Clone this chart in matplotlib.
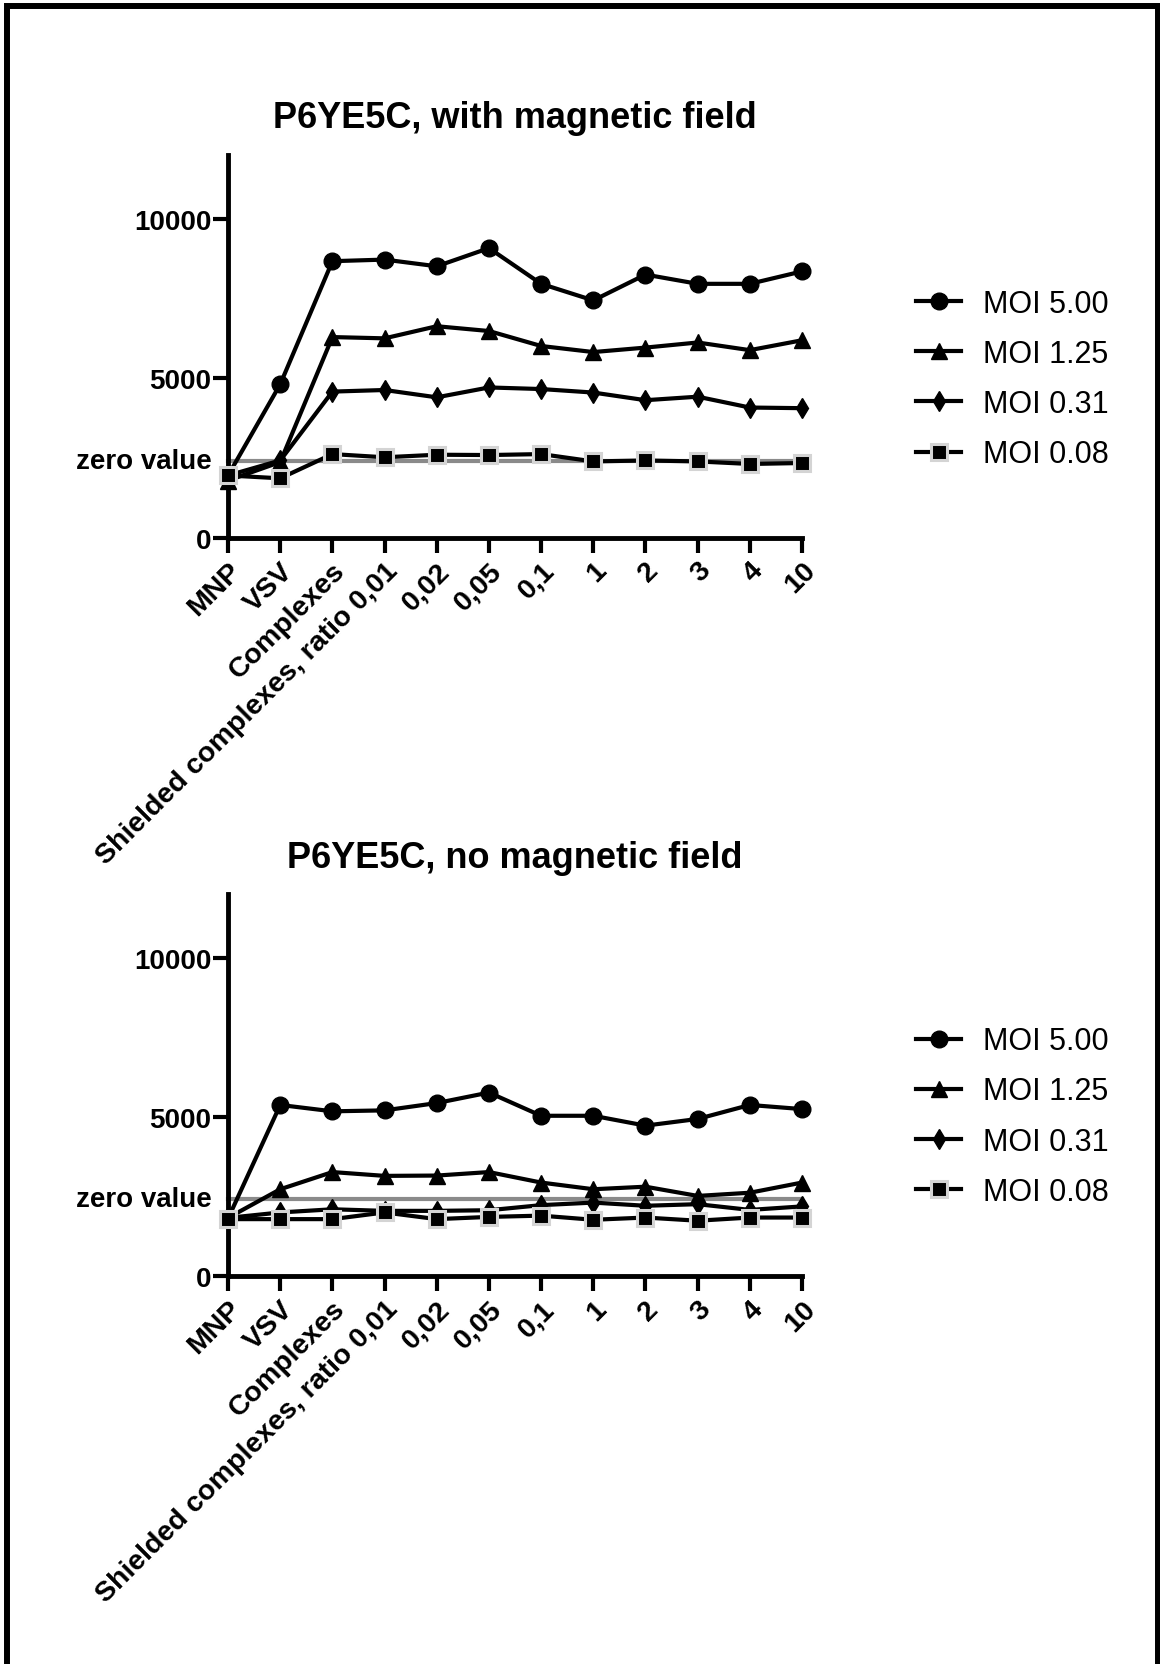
import matplotlib
matplotlib.use("Agg")
import matplotlib.pyplot as plt
import matplotlib.patches as patches

plt.rcParams['font.family'] = ['Liberation Sans', 'DejaVu Sans']

# kategorije na x osi
categories = ['MNP', 'VSV', 'Complexes', 'Shielded complexes, ratio 0,01',
              '0,02', '0,05', '0,1', '1', '2', '3', '4', '10']

series_labels = ['MOI 5.00', 'MOI 1.25', 'MOI 0.31', 'MOI 0.08']

# sa magnetnim poljem
with_field_500 = [1950, 4810, 8670, 8720, 8510, 9080, 7960, 7440, 8250, 7960, 7960, 8350]
with_field_125 = [1790, 2370, 6290, 6250, 6630, 6480, 6010, 5820, 5960, 6120, 5880, 6190]
with_field_031 = [1950, 2420, 4580, 4630, 4400, 4710, 4660, 4550, 4310, 4420, 4080, 4060]
with_field_008 = [1950, 1860, 2620, 2520, 2600, 2590, 2620, 2390, 2420, 2390, 2310, 2340]

# bez magnetnog polja
no_field_500 = [1810, 5380, 5180, 5210, 5440, 5770, 5040, 5040, 4730, 4940, 5380, 5250]
no_field_125 = [1830, 2730, 3270, 3150, 3160, 3270, 2940, 2730, 2810, 2520, 2620, 2940]
no_field_031 = [1830, 2000, 2100, 2050, 2050, 2070, 2230, 2310, 2210, 2260, 2080, 2190]
no_field_008 = [1790, 1790, 1790, 2000, 1790, 1860, 1900, 1770, 1840, 1740, 1840, 1840]

zero_values = [2390, 2415]
titles = ['P6YE5C, with magnetic field', 'P6YE5C, no magnetic field']

# stilovi markera po seriji
marker_styles = [
    dict(marker='o', markersize=12, markerfacecolor='black', markeredgecolor='black', markeredgewidth=1),
    dict(marker='^', markersize=12, markerfacecolor='black', markeredgecolor='black', markeredgewidth=1),
    dict(marker='d', markersize=10, markerfacecolor='black', markeredgecolor='black', markeredgewidth=1),
    dict(marker='s', markersize=11, markerfacecolor='black', markeredgecolor='#d4d4d4', markeredgewidth=2.2),
]

LW = 3.0
SPINE_W = 3.5
YTICK_FS = 20
XTICK_FS = 20.5


def draw_panel(ax, series, zero_val, title):
    x = list(range(len(categories)))
    ax.plot([0, len(categories) - 1], [zero_val, zero_val], color='#8a8a8a', lw=3, zorder=1, clip_on=False)
    for vals, label, style in zip(series, series_labels, marker_styles):
        ax.plot(x, vals, color='black', lw=LW, label=label, clip_on=False, zorder=3, **style)

    ax.set_xlim(0, len(categories) - 1)
    ax.set_ylim(0, 12000)
    ax.set_yticks([0, 5000, 10000])
    ax.set_yticklabels(['0', '5000', '10000'], fontsize=YTICK_FS, fontweight='bold')
    ax.set_xticks(x)
    ax.set_xticklabels(categories, fontsize=XTICK_FS, fontweight='bold', rotation=45,
                       ha='right', rotation_mode='anchor')
    ax.text(-0.028, zero_val, 'zero value', transform=ax.get_yaxis_transform(),
            ha='right', va='center', fontsize=YTICK_FS, fontweight='bold')

    for side in ('top', 'right'):
        ax.spines[side].set_visible(False)
    for side in ('left', 'bottom'):
        ax.spines[side].set_linewidth(SPINE_W)
    ax.tick_params(axis='both', direction='out', length=11, width=3, pad=3)
    ax.tick_params(axis='y', pad=1)

    ax.set_title(title, fontsize=26, fontweight='bold', pad=20)


fig = plt.figure(figsize=(11.6, 16.65), dpi=100)
fig.patch.set_facecolor('white')

ax1 = fig.add_axes([0.1966, 0.6765, 0.4948, 0.2298])
ax2 = fig.add_axes([0.1966, 0.2330, 0.4948, 0.2292])

draw_panel(ax1, [with_field_500, with_field_125, with_field_031, with_field_008], zero_values[0], titles[0])
draw_panel(ax2, [no_field_500, no_field_125, no_field_031, no_field_008], zero_values[1], titles[1])

for ax, y_top in ((ax1, 0.826), (ax2, 0.383)):
    handles, labels = ax.get_legend_handles_labels()
    fig.legend(handles, labels, loc='upper left', bbox_to_anchor=(0.790, y_top),
               bbox_transform=fig.transFigure, frameon=False, fontsize=22,
               handlelength=1.45, handletextpad=0.72, labelspacing=0.66,
               borderpad=0, borderaxespad=0)

# okvir oko cele slike
frame = patches.Rectangle((7 / 1160, -0.05), (1157.5 - 7) / 1160, 1.05 - 7 / 1665,
                          transform=fig.transFigure, fill=False, edgecolor='black',
                          linewidth=4.3, clip_on=False)
fig.add_artist(frame)

fig.savefig('out.png', dpi=100)
plt.close(fig)
